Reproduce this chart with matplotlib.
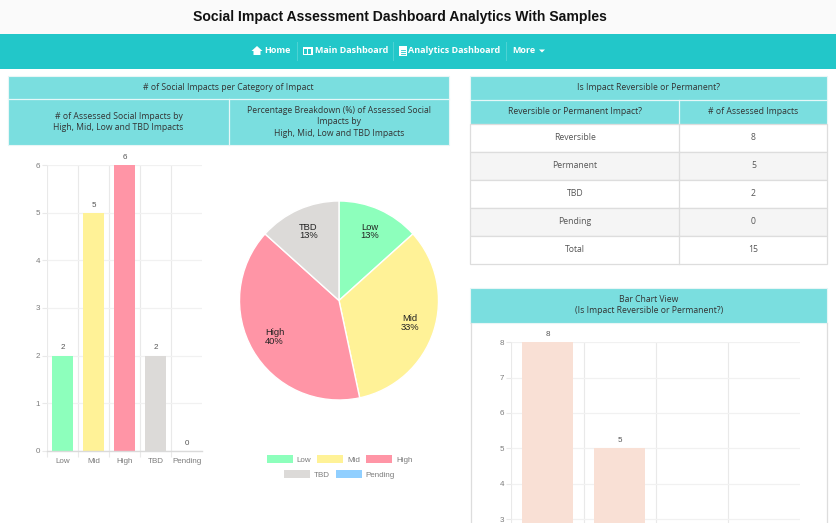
import matplotlib
matplotlib.use("Agg")
import matplotlib.pyplot as plt
from matplotlib.patches import Rectangle, Polygon, Patch

W, H = 837, 523
PX = 0.72  # points per pixel at dpi 100

categories = ["Low", "Mid", "High", "TBD", "Pending"]
counts = [2, 5, 6, 2, 0]
pie_pct = ["13%", "33%", "40%", "13%"]
cat_colors = ["#8DFFBC", "#FFF297", "#FF95A6", "#DCDAD8", "#90CFFF"]

rev_labels = ["Reversible", "Permanent", "TBD", "Pending"]
rev_counts = [8, 5, 2, 0]
rev_total = ["Total", "15"]
rev_color = "#F9E0D5"

HEAD = "#7ADEDF"
TEAL = "#22C7C9"
GRID = "#E9E9E9"
GRID_H = "#F1F1F1"
TICK_TXT = "#7C7C7C"
LBL_TXT = "#555555"
HTML = "Open Sans"
ARIAL = "Liberation Sans"

fig = plt.figure(figsize=(W / 100, H / 100), dpi=100, facecolor="white")
page = fig.add_axes([0, 0, 1, 1], zorder=3)
page.set_xlim(0, W)
page.set_ylim(H, 0)
page.axis("off")


def box(x0, y0, x1, y1, fc, ec="none", lw=0.0, z=1):
    page.add_patch(Rectangle((x0, y0), x1 - x0, y1 - y0, fc=fc, ec=ec, lw=lw, zorder=z))


def txt(x, y, s, size=8.7, color="#333333", family=HTML, weight="normal", z=5, ha="center", ls=1.3):
    page.text(x, y, s, fontsize=size * PX, color=color, family=family, weight=weight,
              ha=ha, va="center", zorder=z, linespacing=ls)


# title and navigation bar
box(0, 0, W, 34, "#FAFAFA")
txt(399.5, 17.5, "Social Impact Assessment Dashboard Analytics With Samples",
    size=14.0, color="#111111", family=ARIAL, weight="bold")
box(0, 34, W, 69, TEAL)
nav_y = 50.5
for x, s in [(264.5, "Home"), (315, "Main Dashboard"), (408.5, "Analytics Dashboard"), (512, "More")]:
    txt(x, nav_y, s, size=9.0, color="white", weight="bold", ha="left")
for x in (296.7, 393.3, 505.7):
    page.plot([x, x], [42, 60], color="#4FD3D4", lw=0.7, zorder=3)
page.add_patch(Polygon([(251.5, 51), (257, 46), (262.5, 51), (260.5, 51), (260.5, 55), (253.5, 55), (253.5, 51)],
                       fc="white", ec="none", zorder=4))
box(303, 46.5, 313, 55, "white", z=4)
box(304.5, 48.5, 307.5, 53.5, TEAL, z=5)
box(308.5, 48.5, 311.5, 53.5, TEAL, z=5)
box(399.5, 46, 407, 55.5, "white", z=4)
for y in (50, 52, 54):
    page.plot([401, 405.5], [y, y], color=TEAL, lw=0.6, zorder=5)
page.add_patch(Polygon([(539, 49.5), (545, 49.5), (542, 52.5)], fc="white", ec="none", zorder=4))

# left header block
box(8, 76, 449, 145, HEAD, ec="#E8F6F6", lw=0.8)
page.plot([8, 449], [99, 99], color="#E6F8F8", lw=0.9, zorder=3)
page.plot([229.5, 229.5], [99, 145], color="#E6F8F8", lw=0.9, zorder=3)
txt(228.5, 87, "# of Social Impacts per Category of Impact")
txt(118.5, 122, "# of Assessed Social Impacts by\nHigh, Mid, Low and TBD Impacts")
txt(339.5, 122, "Percentage Breakdown (%) of Assessed Social\nImpacts by\nHigh, Mid, Low and TBD Impacts")

# right table
TX0, TXM, TX1 = 470.5, 679.5, 827.5
box(TX0, 76, TX1, 123.5, HEAD, ec="#E8F6F6", lw=0.8)
page.plot([TX0, TX1], [99.5, 99.5], color="#E6F8F8", lw=0.9, zorder=3)
page.plot([TXM, TXM], [99.5, 123.5], color="#E6F8F8", lw=0.9, zorder=3)
txt((TX0 + TX1) / 2, 87, "Is Impact Reversible or Permanent?")
txt((TX0 + TXM) / 2, 111, "Reversible or Permanent Impact?")
txt((TXM + TX1) / 2, 111, "# of Assessed Impacts")
rows = [(a, str(b)) for a, b in zip(rev_labels, rev_counts)] + [tuple(rev_total)]
row_h = 28.0
for i, (a, b) in enumerate(rows):
    y0 = 123.5 + i * row_h
    box(TX0, y0, TX1, y0 + row_h, "#F5F5F5" if i % 2 else "white", ec="#DDDDDD", lw=0.9)
    page.plot([TXM, TXM], [y0, y0 + row_h], color="#DDDDDD", lw=0.9, zorder=3)
    txt((TX0 + TXM) / 2, y0 + row_h / 2, a, color="#555555")
    txt((TXM + TX1) / 2, y0 + row_h / 2, b, color="#555555")

# lower panel
box(TX0, 288, TX1, 322.5, HEAD, ec="#E8F6F6", lw=0.8)
txt((TX0 + TX1) / 2, 305, "Bar Chart View\n(Is Impact Reversible or Permanent?)")
page.plot([471, 471], [322.5, H], color="#DDDDDD", lw=0.9, zorder=3)
page.plot([827.3, 827.3], [322.5, H], color="#DDDDDD", lw=0.9, zorder=3)


def axes_px(x0, ytop, x1, ybot, **kw):
    return fig.add_axes([x0 / W, 1 - ybot / H, (x1 - x0) / W, (ybot - ytop) / H], zorder=2, **kw)


def style_bar_axes(ax, n):
    ax.patch.set_alpha(0)
    for s in ax.spines.values():
        s.set_visible(False)
    ax.set_xlim(-0.5, n - 0.5)
    ax.set_xticks([i - 0.5 for i in range(n)], minor=True)
    ax.grid(True, which="minor", axis="x", color=GRID, lw=0.8)
    ax.grid(True, which="major", axis="y", color=GRID_H, lw=0.9)
    ax.set_axisbelow(True)
    ax.tick_params(axis="x", which="major", length=0, labelsize=8 * PX, labelcolor=TICK_TXT, pad=5)
    ax.tick_params(axis="x", which="minor", length=4.5, color=GRID, width=0.8)
    ax.tick_params(axis="y", length=3.6, color=GRID, width=0.8, labelsize=8 * PX,
                   labelcolor=TICK_TXT, pad=1.5)
    for t in ax.get_xticklabels() + ax.get_yticklabels():
        t.set_family(ARIAL)


# left bar chart
ax1 = axes_px(47.3, 165.3, 202, 450.7)
ax1.bar(range(len(categories)), counts, width=0.68, color=cat_colors, zorder=2)
ax1.set_ylim(0, 6)
ax1.set_yticks(range(0, 7))
ax1.set_xticks(range(len(categories)), categories)
style_bar_axes(ax1, len(categories))
ax1.axhline(0, color="#DADADA", lw=1.0, zorder=3, clip_on=False)
for i, v in enumerate(counts):
    ax1.annotate(str(v), (i, v), xytext=(0, 3.0), textcoords="offset points", ha="center", va="bottom",
                 fontsize=8 * PX, color=LBL_TXT, family=ARIAL, annotation_clip=False)

# pie
ax2 = axes_px(239, 200.5, 439, 400.5)
ax2.set_aspect("equal")
ax2.patch.set_alpha(0)
wedges, _ = ax2.pie(counts[:4], colors=cat_colors[:4], startangle=90, counterclock=False, radius=1.0,
                    wedgeprops=dict(edgecolor="white", linewidth=1.0))
ax2.set_xlim(-1.005, 1.005)
ax2.set_ylim(-1.005, 1.005)
pie_x = [369.5, 410, 274.5, 308.5]
pie_y = [231.5, 323, 337, 231.5]
for x, y, name, p in zip(pie_x, pie_y, categories, pie_pct):
    txt(x, y, f"{name}\n{p}", size=9.4, color="#222222", family=ARIAL, z=6, ls=1.0)
page.patch.set_alpha(0)

# pie legend, two centred rows
handles = [Patch(fc=c, ec="none") for c in cat_colors]
for rng, yc in [((0, 3), 459.5), ((3, 5), 474.5)]:
    fig.legend(handles[rng[0]:rng[1]], categories[rng[0]:rng[1]], ncol=rng[1] - rng[0],
               loc="center", bbox_to_anchor=(339.5 / W, 1 - yc / H), frameon=False,
               prop=dict(family=ARIAL, size=8 * PX), labelcolor=TICK_TXT,
               handlelength=3.25, handleheight=1.0, handletextpad=0.5, columnspacing=0.75,
               borderpad=0, borderaxespad=0)

# lower right bar chart, cut by the bottom of the page
per_unit = (519 - 342.3) / 5
ax3 = axes_px(511.3, 342.3, 800.5, H)
ax3.bar(range(len(rev_labels)), rev_counts, width=0.7, color=rev_color, zorder=2)
ax3.set_ylim(8 - (H - 342.3) / per_unit, 8)
ax3.set_yticks(range(3, 9))
ax3.set_xticks(range(len(rev_labels)), [""] * len(rev_labels))
style_bar_axes(ax3, len(rev_labels))
ymin = ax3.get_ylim()[0]
for i, v in enumerate(rev_counts):
    if v > ymin:
        ax3.annotate(str(v), (i, v), xytext=(0, 3.0), textcoords="offset points", ha="center", va="bottom",
                     fontsize=8 * PX, color=LBL_TXT, family=ARIAL, annotation_clip=False)

fig.savefig("out.png", dpi=100, facecolor="white")
